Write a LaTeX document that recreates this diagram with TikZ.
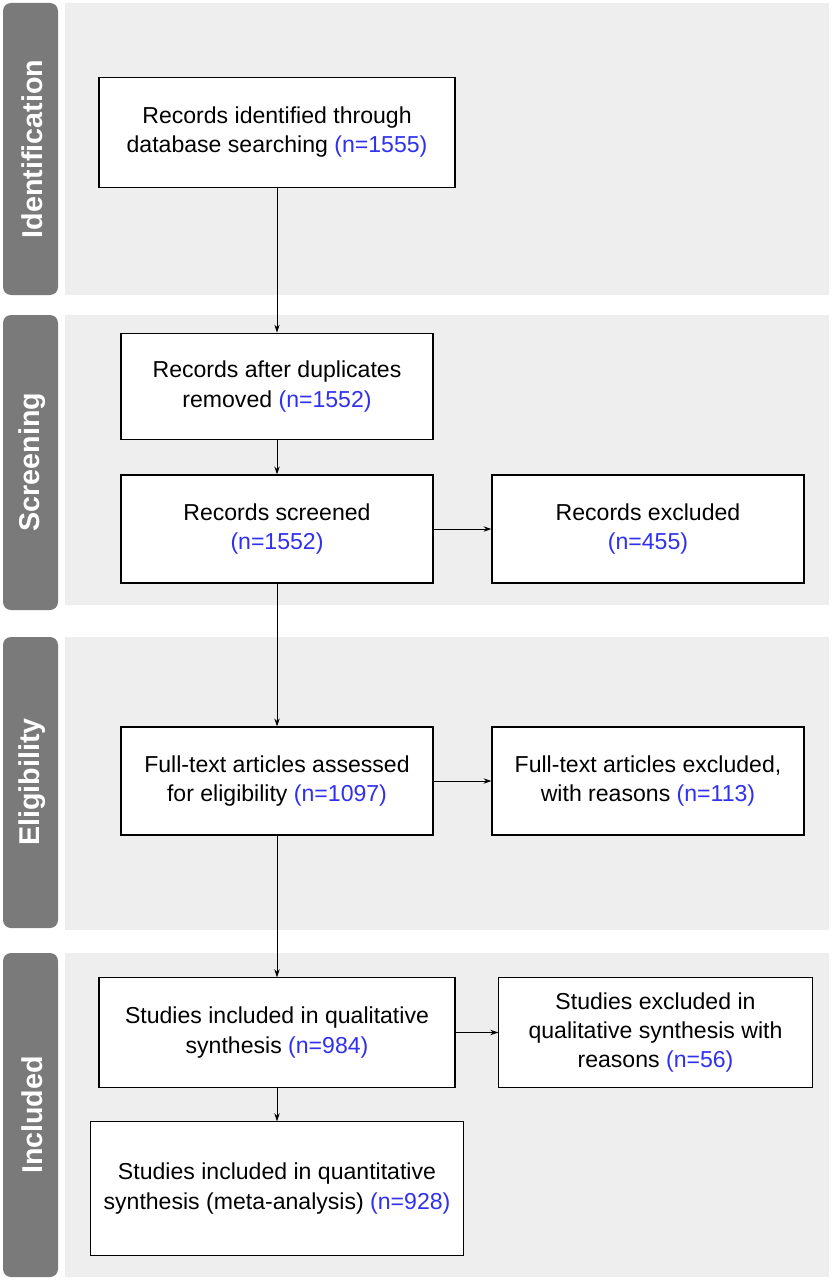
\documentclass[tikz,border=0pt]{standalone}
\usepackage{fontspec}
\setmainfont{Liberation Sans}
\usetikzlibrary{arrows.meta}
\definecolor{bandbg}{HTML}{EEEEEE}
\definecolor{tabbg}{HTML}{7A7A7A}
\definecolor{nblue}{HTML}{3030F0}
\begin{document}
\begin{tikzpicture}[x=0.75pt,y=-0.75pt,
  band/.style={fill=bandbg,draw=none},
  tab/.style={fill=tabbg,draw=none,rounded corners=6pt},
  tablabel/.style={rotate=90,text=white,font=\bfseries\fontsize{21.5}{24}\selectfont},
  box/.style={draw=black,line width=0.8pt,fill=white,align=center,font=\fontsize{17.3}{21.8}\selectfont,inner sep=0pt},
  arr/.style={-{Stealth[length=6pt,width=4pt]},line width=0.7pt}]
\useasboundingbox (0,0) rectangle (832,1280);
\fill[white] (0,0) rectangle (832,1280);
\foreach \a/\b in {3/295,315/605,637/930,953/1277}{
  \fill[band] (65,\a) rectangle (829,\b);
}
\fill[tab] (3,3) rectangle (58,295);
\fill[tab] (3,315) rectangle (58,610);
\fill[tab] (3,637) rectangle (58,928);
\fill[tab] (3,953) rectangle (58,1277);
\node[tablabel] (t1) at (32,149) {Identification};
\node[tablabel] (t2) at (32,462) {Screening};
\node[tablabel] (t3) at (32,782) {Eligibility};
\node[tablabel] (t4) at (32,1115) {Included};
\newcommand{\nb}[1]{\textcolor{nblue}{#1}}
\node[box,minimum width=267pt,minimum height=82pt] (A) at (277,132.5) {Records identified through\\database searching \nb{(n=1555)}};
\node[box,minimum width=234pt,minimum height=80pt] (B) at (277,386.5) {Records after duplicates\\removed \nb{(n=1552)}};
\node[box,minimum width=234pt,minimum height=81pt] (C) at (277,529) {Records screened\\\nb{(n=1552)}};
\node[box,minimum width=234pt,minimum height=81pt] (D) at (648,529) {Records excluded\\\nb{(n=455)}};
\node[box,minimum width=234pt,minimum height=81pt] (E) at (277,781) {Full-text articles assessed\\for eligibility \nb{(n=1097)}};
\node[box,minimum width=234pt,minimum height=81pt] (F) at (648,781) {Full-text articles excluded,\\with reasons \nb{(n=113)}};
\node[box,minimum width=267pt,minimum height=82pt] (G) at (277,1032.5) {Studies included in qualitative\\synthesis \nb{(n=984)}};
\node[box,minimum width=235pt,minimum height=82pt] (H) at (655.5,1032.5) {Studies excluded in\\qualitative synthesis with\\reasons \nb{(n=56)}};
\node[box,minimum width=280pt,minimum height=100pt] (I) at (277,1188.5) {Studies included in quantitative\\synthesis (meta-analysis) \nb{(n=928)}};
\draw[arr] (A) -- (B);
\draw[arr] (B) -- (C);
\draw[arr] (C) -- (D);
\draw[arr] (C) -- (E);
\draw[arr] (E) -- (F);
\draw[arr] (E) -- (G);
\draw[arr] (G) -- (H);
\draw[arr] (G) -- (I);
\end{tikzpicture}
\end{document}
